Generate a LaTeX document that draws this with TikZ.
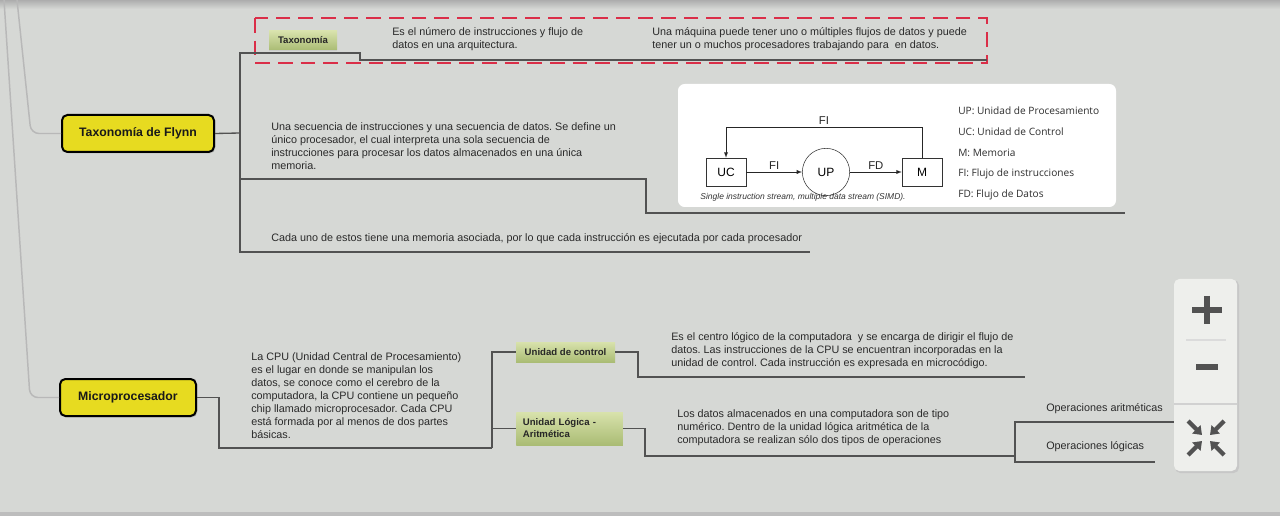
\documentclass[tikz,border=0pt]{standalone}
\usepackage{fontspec}
\setmainfont{Liberation Sans}
\newfontfamily\legendfont{Open Sans}
\usepackage{tikz}
\usetikzlibrary{arrows.meta,shadows}
\tikzset{>=latex}
\usepackage{xcolor}
\definecolor{bggray}{RGB}{214,216,213}
\definecolor{myyellow}{RGB}{231,219,32}
\definecolor{mygreenlight}{RGB}{216,226,172}
\definecolor{mygreendark}{RGB}{170,188,116}
\definecolor{myred}{RGB}{218,46,72}
\definecolor{textgray}{RGB}{42,42,42}
\definecolor{panelgray}{RGB}{238,239,236}
\colorlet{linegray}{black!68}
\colorlet{treegray}{black!28}
\colorlet{icongray}{black!68}
\tikzstyle{topic}=[draw=black,line width=1.5pt,fill=myyellow,rounded corners=4pt,font=\bfseries\fontsize{9.2}{10}\selectfont,text=black!90,drop shadow={opacity=0.35,shadow xshift=1pt,shadow yshift=-1pt}]
\tikzstyle{label green}=[top color=mygreenlight,bottom color=mygreendark,font=\bfseries\fontsize{7.2}{9}\selectfont,text=black!85,inner sep=0,drop shadow={opacity=0.15,shadow xshift=0pt,shadow yshift=-0.6pt}]
\tikzstyle{txt}=[anchor=west,align=left,inner sep=0,text=textgray,font=\fontsize{8.1}{9.75}\selectfont]
\tikzstyle{legend}=[anchor=west,inner sep=0,text=black!82,font=\legendfont\fontsize{7.6}{9}\selectfont]
\tikzstyle{simd box}=[draw=black!80,thin,fill=white,font=\fontsize{9}{10}\selectfont]
\tikzstyle{simd}=[thin,black!85]
\tikzstyle{connect}=[line width=1pt,linegray]
\tikzstyle{tree}=[line width=1.1pt,treegray,rounded corners=6pt]
\tikzstyle{dashbox}=[myred,line width=2.1pt,dash pattern=on 11pt off 6pt]
\tikzstyle{icon arrow}=[line width=3.2pt,icongray,-{Triangle[length=6pt,width=8.5pt]}]

\begin{document}
\frenchspacing
\begin{tikzpicture}[x=0.75pt,y=-0.75pt]
    \useasboundingbox (0,0) rectangle (1280,516);
    % BACKGROUND
    \fill[bggray] (0,0) rectangle (1280,516);
    \shade[top color=black!32,bottom color=bggray] (0,0) rectangle (1280,9);
    \fill[black!26] (0,512) rectangle (1280,516);

    % DRAW NODES
    \node[topic,minimum width=114pt,minimum height=27.75pt] (flynn) at (138,133.5) {Taxonomía de Flynn};
    \node[topic,minimum width=102pt,minimum height=27.75pt] (micro) at (128,397.5) {Microprocesador};
    \node[label green,minimum width=51pt,minimum height=14.25pt] (taxo) at (303,40.5) {Taxonomía};
    \node[label green,minimum width=74.25pt,minimum height=15pt] (control) at (565.5,352) {Unidad de control};
    \node[label green,anchor=west,align=left,text width=70pt,inner xsep=5pt,minimum height=24.75pt] (alu) at (516,428.5) {Unidad Lógica -\\Aritmética};

    \node[txt] (taxo-a) at (392,39.5) {Es el número de instrucciones y flujo de\\datos en una arquitectura.};
    \node[txt] (taxo-b) at (652,39.5) {Una máquina puede tener uno o múltiples flujos de datos y puede\\tener un o muchos procesadores trabajando para\ \ en datos.};
    \node[txt] (sisd) at (271,146.5) {Una secuencia de instrucciones y una secuencia de datos. Se define un\\único procesador, el cual interpreta una sola secuencia de\\instrucciones para procesar los datos almacenados en una única\\memoria.};
    \node[txt] (cada) at (271,239) {Cada uno de estos tiene una memoria asociada, por lo que cada instrucción es ejecutada por cada procesador};
    \node[txt] (cpu) at (251,396) {La CPU (Unidad Central de Procesamiento)\\es el lugar en donde se manipulan los\\datos, se conoce como el cerebro de la\\computadora, la CPU contiene un pequeño\\chip llamado microprocesador. Cada CPU\\está formada por al menos de dos partes\\básicas.};
    \node[txt] (ctrl-txt) at (671,351) {Es el centro lógico de la computadora\ \ y se encarga de dirigir el flujo de\\datos. Las instrucciones de la CPU se encuentran incorporadas en la\\unidad de control. Cada instrucción es expresada en microcódigo.};
    \node[txt] (alu-txt) at (677,428) {Los datos almacenados en una computadora son de tipo\\numérico. Dentro de la unidad lógica aritmética de la\\computadora se realizan sólo dos tipos de operaciones};
    \node[txt] (arit) at (1046,409) {Operaciones aritméticas};
    \node[txt] (logi) at (1046,447) {Operaciones lógicas};

    % SIMD PICTURE
    \fill[white,rounded corners=5pt] (678,84) rectangle (1116,207);
    \node[simd box,minimum width=30pt,minimum height=21pt] (uc) at (726,172) {UC};
    \node[simd box,circle,minimum size=35.5pt,inner sep=0] (up) at (826,172) {UP};
    \node[simd box,minimum width=30pt,minimum height=21pt] (m) at (922,172) {M};
    \node[font=\itshape\fontsize{6.35}{7}\selectfont,text=black!80,inner sep=0] (caption) at (803,197) {Single instruction stream, multiple data stream (SIMD).};
    \draw[simd,->] (uc.east) -- node[above,font=\fontsize{8.5}{10}\selectfont,inner sep=1.5pt] {FI} (up.west);
    \draw[simd,->] (up.east) -- node[above,font=\fontsize{8.5}{10}\selectfont,inner sep=1.5pt] {FD} (m.west);
    \draw[simd,->] (m.north) -- ++(0,-30) -| node[pos=0.25,above,font=\fontsize{8.5}{10}\selectfont,inner sep=2pt] {FI} (uc.north);
    \foreach \txt [count=\i] in {UP: Unidad de Procesamiento,UC: Unidad de Control,M: Memoria,FI: Flujo de instrucciones,FD: Flujo de Datos}{
        \node[legend] (L-\i) at (958,90+21*\i) {\txt};
    }

    % RED FRAME
    \draw[dashbox] (255,18) rectangle (987,63);

    % DRAW EDGES
    \coordinate (fork-F) at (240,133);
    \coordinate (end-taxo) at (987,60);
    \coordinate (end-sisd) at (1125,213);
    \coordinate (end-cada) at (810,252);
    \coordinate (fork-M) at (492,448);
    \coordinate (end-ctrl) at (1025,377);
    \coordinate (fork-A) at (1015,456);
    \coordinate (end-arit) at (1174,422);
    \coordinate (end-logi) at (1155,462);

    \draw[tree] (17,0) -- (31,133.5) -- (flynn.west);
    \draw[tree] (4,0) -- (30,397.5) -- (micro.west);

    \draw[connect] (flynn.east) -- (fork-F);
    \draw[connect] (fork-F) -- (240,53) -- (360,53) -- (360,60) -- (end-taxo);
    \draw[connect] (fork-F) -- (240,179) -- (646,179) -- (646,213) -- (end-sisd);
    \draw[connect] (fork-F) -- (240,252) -- (end-cada);

    \draw[connect] (micro.east) -- (219,397.5) -- (219,448) -- (fork-M);
    \draw[connect] (fork-M) |- (control.west);
    \draw[connect] (fork-M) |- (alu.west);
    \draw[connect] (control.east) -- (638,352) -- (638,377) -- (end-ctrl);
    \draw[connect] (alu.east) -- (645,428.5) -- (645,456) -- (fork-A);
    \draw[connect] (fork-A) |- (end-arit);
    \draw[connect] (fork-A) |- (end-logi);

    % ZOOM PANEL
    \fill[black!22,rounded corners=4pt] (1175,280) rectangle (1239,473);
    \fill[panelgray,rounded corners=4pt] (1174,279) rectangle (1237,471);
    \draw[black!14,line width=1pt] (1186,340) -- (1226,340);
    \draw[black!18,line width=1.6pt] (1174,404) -- (1237,404);
    \draw[icongray,line width=4.4pt] (1192,310) -- (1222,310);
    \draw[icongray,line width=4.4pt] (1207,296) -- (1207,324);
    \draw[icongray,line width=5pt] (1196,367) -- (1218,367);
    \foreach \sx/\sy in {-1/-1,1/-1,-1/1,1/1}{
        \draw[icon arrow] (1206+18*\sx,438+17*\sy) -- (1206+4*\sx,438+3*\sy);
    }
\end{tikzpicture}
\end{document}
